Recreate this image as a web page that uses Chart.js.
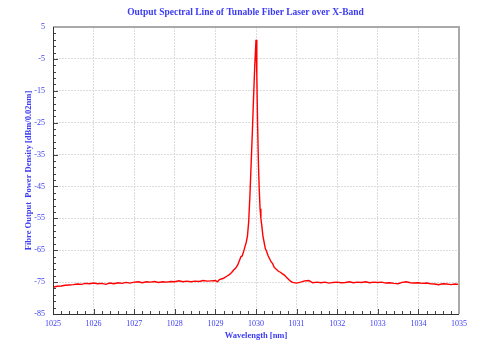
<!DOCTYPE html>
<html>
<head>
<meta charset="utf-8">
<script src="https://cdn.jsdelivr.net/npm/chart.js@4/dist/chart.umd.min.js"></script>
<style>
  html, body { margin: 0; padding: 0; background: #fff; }
  #wrap { width: 491px; height: 361px; }
</style>
</head>
<body>
<div id="wrap"><canvas id="spectrum" width="491" height="361"></canvas></div>
<script>
const wavelength = [
  1025.0, 1025.1, 1025.2, 1025.3, 1025.4, 1025.5, 1025.6, 1025.7, 1025.8, 1025.9,
  1026.0, 1026.1, 1026.2, 1026.3, 1026.4, 1026.5, 1026.6, 1026.7, 1026.8, 1026.9,
  1027.0, 1027.1, 1027.2, 1027.3, 1027.4, 1027.5, 1027.6, 1027.7, 1027.8, 1027.9,
  1028.0, 1028.1, 1028.2, 1028.3, 1028.4, 1028.5, 1028.6, 1028.7, 1028.8, 1028.9,
  1029.0, 1029.05, 1029.1, 1029.2, 1029.3, 1029.35, 1029.4, 1029.45, 1029.5, 1029.55,
  1029.6, 1029.63, 1029.66, 1029.7, 1029.73, 1029.76, 1029.79, 1029.82, 1029.85, 1029.88,
  1029.91, 1029.94, 1029.97, 1030.0, 1030.02, 1030.04, 1030.06, 1030.08, 1030.1, 1030.12,
  1030.14, 1030.17, 1030.2, 1030.23, 1030.26, 1030.3, 1030.33, 1030.37, 1030.41, 1030.45,
  1030.5, 1030.55, 1030.6, 1030.65, 1030.7, 1030.75, 1030.8, 1030.85, 1030.9, 1031.0,
  1031.1, 1031.2, 1031.3, 1031.4, 1031.5, 1031.6, 1031.7, 1031.8, 1031.9, 1032.0,
  1032.1, 1032.2, 1032.3, 1032.4, 1032.5, 1032.6, 1032.7, 1032.8, 1032.9, 1033.0,
  1033.1, 1033.2, 1033.3, 1033.4, 1033.5, 1033.6, 1033.7, 1033.8, 1033.9, 1034.0,
  1034.1, 1034.2, 1034.3, 1034.4, 1034.5, 1034.6, 1034.7, 1034.8, 1034.9, 1035.0
];
const powerDensity = [
  -76.6, -76.3, -76.2, -76.0, -75.9, -75.8, -75.6, -75.7, -75.4, -75.5,
  -75.3, -75.5, -75.4, -75.7, -75.3, -75.5, -75.2, -75.4, -75.1, -75.3,
  -75.0, -74.9, -75.2, -74.9, -75.0, -74.8, -75.1, -74.9, -75.0, -74.8,
  -74.9, -74.6, -74.9, -74.7, -74.9, -74.7, -74.8, -74.5, -74.7, -74.6,
  -74.5, -74.9, -74.2, -73.8, -73.0, -72.6, -72.0, -71.2, -70.6, -69.6,
  -68.0, -67.0, -66.8, -65.2, -63.8, -62.5, -60.5, -56.0, -48.0, -38.0,
  -28.0, -17.0, -7.0, 1.0, -10.0, -26.0, -38.0, -46.0, -52.0, -55.0,
  -57.0, -60.5, -62.5, -64.5, -65.3, -66.8, -67.5, -68.6, -69.2, -70.4,
  -71.0, -71.6, -71.9, -72.4, -72.8, -73.5, -74.1, -74.7, -75.1, -75.3,
  -75.0, -74.6, -74.5, -75.2, -75.0, -75.2, -75.0, -75.3, -75.1, -75.0,
  -75.2, -75.1, -74.9, -75.2, -75.0, -75.1, -74.9, -75.2, -75.0, -75.1,
  -75.0, -75.3, -75.2, -75.4, -75.5, -75.1, -74.9, -75.2, -75.3, -75.2,
  -75.4, -75.3, -75.5, -75.6, -75.8, -75.5, -75.6, -75.8, -75.6, -75.7
];
const xTicks = [1025, 1026, 1027, 1028, 1029, 1030, 1031, 1032, 1033, 1034, 1035];
const yTicks = [-85, -75, -65, -55, -45, -35, -25, -15, -5, 5];

const chartTitle = 'Output Spectral Line of Tunable Fiber Laser over X-Band';
const xTitle = 'Wavelength [nm]';
const yTitle = 'Fibre Output  Power Density [dBm/0.02nm]';

const blueText = '#3b3bf2';
const serif = '"Liberation Serif", "Times New Roman", serif';

// Marco y marcas menores hacia dentro
const framePlugin = {
  id: 'frame',
  afterDatasetsDraw(chart) {
    const { ctx, chartArea: a, scales } = chart;
    ctx.save();
    // marcas menores y mayores (hacia dentro)
    ctx.strokeStyle = '#444';
    ctx.lineWidth = 1;
    ctx.beginPath();
    for (let i = 0; i <= 50; i++) {
      const v = xTicks[0] + i * 0.2;
      const px = Math.round(scales.x.getPixelForValue(v)) + 0.5;
      const len = i % 5 === 0 ? 5 : 3;
      ctx.moveTo(px, a.bottom);
      ctx.lineTo(px, a.bottom - len);
    }
    for (let i = 0; i <= 45; i++) {
      const v = yTicks[0] + i * 2;
      const py = Math.round(scales.y.getPixelForValue(v)) + 0.5;
      const len = i % 5 === 0 ? 5 : 3;
      ctx.moveTo(a.left, py);
      ctx.lineTo(a.left + len, py);
    }
    ctx.stroke();
    // borde superior y derecho gris
    ctx.strokeStyle = '#a9a9a9';
    ctx.lineWidth = 2;
    ctx.beginPath();
    ctx.moveTo(a.left, a.top);
    ctx.lineTo(a.right, a.top);
    ctx.lineTo(a.right, a.bottom);
    ctx.stroke();
    // ejes izquierdo e inferior
    ctx.strokeStyle = '#333';
    ctx.lineWidth = 1;
    ctx.beginPath();
    ctx.moveTo(a.left + 0.5, a.top);
    ctx.lineTo(a.left + 0.5, a.bottom + 0.5);
    ctx.lineTo(a.right, a.bottom + 0.5);
    ctx.stroke();
    ctx.restore();
  }
};

const ctx = document.getElementById('spectrum').getContext('2d');
new Chart(ctx, {
  type: 'line',
  data: {
    datasets: [{
      data: wavelength.map((w, i) => ({ x: w, y: powerDensity[i] })),
      borderColor: '#ff0000',
      borderWidth: 1.4,
      pointRadius: 0,
      tension: 0,
      fill: false
    }]
  },
  options: {
    responsive: false,
    animation: false,
    layout: { padding: 0 },
    plugins: {
      legend: { display: false },
      tooltip: { enabled: false },
      title: {
        display: true,
        text: chartTitle,
        color: blueText,
        font: { family: serif, size: 9.5, weight: 'bold' },
        padding: { top: 7, bottom: 8.6 }
      }
    },
    scales: {
      x: {
        type: 'linear',
        min: xTicks[0],
        max: xTicks[xTicks.length - 1],
        afterBuildTicks: s => { s.ticks = xTicks.map(v => ({ value: v })); },
        afterFit: s => { s.height = 47; },
        ticks: {
          color: blueText,
          font: { family: serif, size: 8 },
          padding: 5,
          maxRotation: 0,
          autoSkip: false,
          callback: v => String(v)
        },
        grid: {
          drawTicks: false,
          color: c => (c.index === 0 || c.index === xTicks.length - 1) ? 'rgba(0,0,0,0)' : '#dcdcdc',
          lineWidth: 1
        },
        border: { display: false, dash: [2, 1] },
        title: {
          display: true,
          text: xTitle,
          color: blueText,
          font: { family: serif, size: 8.5, weight: 'bold' },
          padding: { top: 0, bottom: 20 }
        }
      },
      y: {
        type: 'linear',
        min: yTicks[0],
        max: yTicks[yTicks.length - 1],
        afterBuildTicks: s => { s.ticks = yTicks.map(v => ({ value: v })); },
        afterFit: s => { s.width = 53; },
        ticks: {
          color: blueText,
          font: { family: serif, size: 8 },
          padding: 8,
          callback: v => String(v)
        },
        grid: {
          drawTicks: false,
          color: c => (c.index === 0 || c.index === yTicks.length - 1) ? 'rgba(0,0,0,0)' : '#dcdcdc',
          lineWidth: 1
        },
        border: { display: false, dash: [2, 1] },
        title: {
          display: true,
          text: yTitle,
          color: blueText,
          font: { family: serif, size: 8.5, weight: 'bold' },
          padding: { top: 24, bottom: 0 }
        }
      },
      // eje vacío a la derecha: reserva el margen derecho
      yRight: {
        type: 'linear',
        position: 'right',
        min: yTicks[0],
        max: yTicks[yTicks.length - 1],
        afterFit: s => { s.width = 32; },
        ticks: { display: false },
        grid: { display: false, drawTicks: false },
        border: { display: false }
      }
    }
  },
  plugins: [framePlugin]
});
</script>
</body>
</html>
